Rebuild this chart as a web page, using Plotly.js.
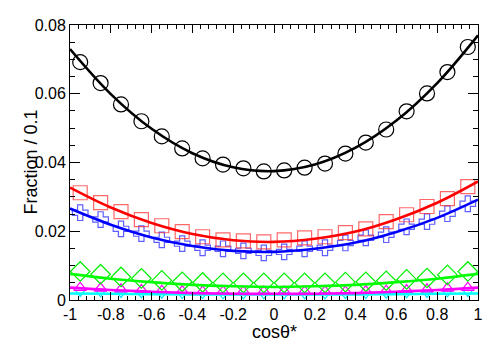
<!DOCTYPE html>
<html>
<head>
<meta charset="utf-8">
<script src="https://cdn.plot.ly/plotly-3.0.1.min.js"></script>
<style>
  html, body { margin: 0; padding: 0; background: #ffffff; }
  #chart { width: 498px; height: 344px; }
</style>
</head>
<body>
<div id="chart"></div>
<script>
// bin centres of cos(theta*) histogram, 20 bins
const binCenters = [-0.95, -0.85, -0.75, -0.65, -0.55, -0.45, -0.35, -0.25, -0.15, -0.05,
                    0.05, 0.15, 0.25, 0.35, 0.45, 0.55, 0.65, 0.75, 0.85, 0.95];

// measured fractions (markers)
const blackPts = [0.0692, 0.0631, 0.0569, 0.0520, 0.0476, 0.0441, 0.0412, 0.0394, 0.0383, 0.0374,
                  0.0377, 0.0385, 0.0397, 0.0426, 0.0458, 0.0496, 0.0549, 0.0601, 0.0663, 0.0736];
const redPts = [0.0312, 0.0283, 0.0257, 0.0234, 0.0216, 0.0199, 0.0184, 0.0175, 0.0172, 0.0169,
                0.0175, 0.0181, 0.0184, 0.0196, 0.0207, 0.0228, 0.0248, 0.0272, 0.0295, 0.0330];
const bluePts = [0.0254, 0.0234, 0.0207, 0.0193, 0.0175, 0.0164, 0.0152, 0.0149, 0.0143, 0.0137,
                 0.0140, 0.0149, 0.0152, 0.0166, 0.0181, 0.0190, 0.0213, 0.0228, 0.0251, 0.0280];
const greenPts = [0.0083, 0.0075, 0.0067, 0.0063, 0.0057, 0.0053, 0.0051, 0.0050, 0.0050, 0.0050,
                  0.0050, 0.0050, 0.0050, 0.0052, 0.0053, 0.0056, 0.0060, 0.0064, 0.0073, 0.0083];
const magentaPts = [0.0036, 0.0034, 0.0031, 0.0029, 0.0027, 0.0026, 0.0025, 0.0025, 0.0025, 0.0025,
                    0.0025, 0.0025, 0.0025, 0.0025, 0.0026, 0.0027, 0.0029, 0.0031, 0.0034, 0.0036];
const cyanPts = [0.0022, 0.0021, 0.0019, 0.0018, 0.0017, 0.0016, 0.0016, 0.0015, 0.0015, 0.0015,
                 0.0015, 0.0015, 0.0015, 0.0016, 0.0016, 0.0017, 0.0018, 0.0019, 0.0021, 0.0022];

// fit curves, read at cos(theta*) = -1, -0.8, ..., 1
const fitX = [-1, -0.8, -0.6, -0.4, -0.2, 0, 0.2, 0.4, 0.6, 0.8, 1];
const blackFit = [0.0730, 0.0599, 0.0498, 0.0427, 0.0386, 0.0375, 0.0394, 0.0443, 0.0522, 0.0631, 0.0770];
const redFit = [0.0327, 0.0269, 0.0224, 0.0192, 0.0174, 0.0169, 0.0178, 0.0199, 0.0235, 0.0283, 0.0345];
const blueFit = [0.0266, 0.0219, 0.0182, 0.0157, 0.0143, 0.0140, 0.0149, 0.0167, 0.0198, 0.0239, 0.0292];
const greenFit = [0.0076, 0.0062, 0.0052, 0.0044, 0.0040, 0.0038, 0.0040, 0.0044, 0.0052, 0.0062, 0.0076];
const magentaFit = [0.0036, 0.0029, 0.0024, 0.0020, 0.0018, 0.0018, 0.0018, 0.0020, 0.0024, 0.0029, 0.0036];
const cyanFit = [0.0019, 0.0018, 0.0017, 0.0016, 0.0016, 0.0016, 0.0016, 0.0016, 0.0017, 0.0018, 0.0019];

const xTickVals = [-1, -0.8, -0.6, -0.4, -0.2, 0, 0.2, 0.4, 0.6, 0.8, 1];
const xTickText = ['-1', '-0.8', '-0.6', '-0.4', '-0.2', '0', '0.2', '0.4', '0.6', '0.8', '1'];
const yTickVals = [0, 0.02, 0.04, 0.06, 0.08];
const yTickText = ['0', '0.02', '0.04', '0.06', '0.08'];

function pts(y, symbol, color, size) {
    return {
        x: binCenters, y: y, type: 'scatter', mode: 'markers', showlegend: false,
        marker: { symbol: symbol, size: size, color: color, line: { color: color, width: 1.2 } }
    };
}
function fit(y, color) {
    return {
        x: fitX, y: y, type: 'scatter', mode: 'lines', showlegend: false,
        line: { color: color, width: 2.6, shape: 'spline', smoothing: 1 }
    };
}

const data = [
    pts(cyanPts, 'triangle-down-open', '#00e5ff', 8),
    pts(magentaPts, 'triangle-up-open', '#ff00ff', 11),
    pts(greenPts, 'diamond-open', '#00ee00', 15),
    pts(bluePts, 'cross-open', 'rgba(40,40,255,0.75)', 13),
    pts(redPts, 'square-open', 'rgba(255,40,40,0.7)', 14),
    pts(blackPts, 'circle-open', '#000000', 15),
    fit(cyanFit, '#00ffff'),
    fit(magentaFit, '#ff00ff'),
    fit(greenFit, '#00ff00'),
    fit(blueFit, '#0000ff'),
    fit(redFit, '#ff0000'),
    fit(blackFit, '#000000')
];

const axisFont = { family: '"Liberation Sans", Arial, sans-serif', size: 16, color: '#000000' };
const titleFont = { family: axisFont.family, size: 18, color: '#000000' };

const layout = {
    width: 498,
    height: 344,
    margin: { l: 70, r: 20, t: 25, b: 44 },
    paper_bgcolor: '#ffffff',
    plot_bgcolor: '#ffffff',
    font: axisFont,
    xaxis: {
        range: [-1, 1],
        tickvals: xTickVals,
        ticktext: xTickText,
        ticks: 'inside',
        ticklen: 8,
        tickcolor: '#000000',
        tickfont: axisFont,
        showline: true,
        linecolor: '#000000',
        linewidth: 1,
        mirror: 'allticks',
        showgrid: false,
        zeroline: false,
        minor: { dtick: 0.04, ticks: 'inside', ticklen: 4, tickcolor: '#000000', showgrid: false }
    },
    yaxis: {
        range: [0, 0.08],
        tickvals: yTickVals,
        ticktext: yTickText,
        ticks: 'inside',
        ticklen: 10,
        tickcolor: '#000000',
        tickfont: axisFont,
        showline: true,
        linecolor: '#000000',
        linewidth: 1,
        mirror: 'allticks',
        showgrid: false,
        zeroline: false,
        minor: { dtick: 0.005, ticks: 'inside', ticklen: 5, tickcolor: '#000000', showgrid: false }
    },
    // axis titles placed as annotations to match the original positions
    annotations: [
        {
            text: 'cosθ*', font: titleFont, showarrow: false,
            xref: 'paper', yref: 'paper', x: 0.5, y: 0,
            xanchor: 'center', yanchor: 'middle', yshift: -32
        },
        {
            text: 'Fraction / 0.1', font: titleFont, showarrow: false, textangle: -90,
            xref: 'paper', yref: 'paper', x: 0, y: 0.5,
            xanchor: 'center', yanchor: 'middle', xshift: -40
        }
    ]
};

Plotly.newPlot('chart', data, layout, { staticPlot: true, displayModeBar: false });
</script>
</body>
</html>
